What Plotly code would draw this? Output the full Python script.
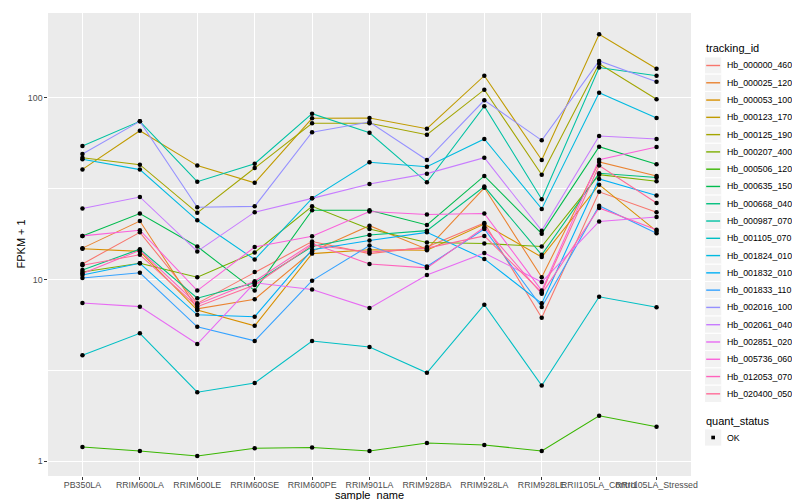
import math
import plotly.graph_objects as go

samples = ["PB350LA", "RRIM600LA", "RRIM600LE", "RRIM600SE", "RRIM600PE", "RRIM901LA",
           "RRIM928BA", "RRIM928LA", "RRIM928LE", "RRII105LA_Control", "RRII105LA_Stressed"]

tracking_ids = ["Hb_000000_460", "Hb_000025_120", "Hb_000053_100", "Hb_000123_170", "Hb_000125_190",
                "Hb_000207_400", "Hb_000506_120", "Hb_000635_150", "Hb_000668_040", "Hb_000987_070",
                "Hb_001105_070", "Hb_001824_010", "Hb_001832_010", "Hb_001833_110", "Hb_002016_100",
                "Hb_002061_040", "Hb_002851_020", "Hb_005736_060", "Hb_012053_070", "Hb_020400_050"]

# FPKM + 1 per sample
Hb_000000_460 = [12.2, 18.2, 7.4, 11.0, 16.2, 13.9, 15.1, 20.5, 6.16, 30.4, 23.5]
Hb_000025_120 = [14.9, 21.0, 6.9, 7.8, 14.3, 19.8, 14.7, 32.0, 10.3, 44.4, 37.2]
Hb_000053_100 = [14.8, 14.3, 6.8, 5.57, 13.9, 14.6, 14.5, 20.2, 13.3, 33.3, 18.5]
Hb_000123_170 = [40.4, 66.0, 42.4, 34.1, 77.2, 77.6, 67.7, 132.5, 45.5, 224.0, 144.8]
Hb_000125_190 = [46.8, 42.9, 23.3, 41.1, 72.5, 72.5, 62.7, 111.0, 37.8, 154.0, 98.3]
Hb_000207_400 = [11.0, 12.3, 10.3, 14.1, 25.3, 19.0, 16.0, 15.8, 15.2, 37.8, 34.8]
Hb_000506_120 = [1.20, 1.14, 1.07, 1.18, 1.19, 1.14, 1.26, 1.23, 1.14, 1.78, 1.55]
Hb_000635_150 = [17.4, 23.1, 15.2, 8.7, 24.1, 24.1, 20.0, 37.2, 17.9, 53.9, 43.2]
Hb_000668_040 = [11.3, 14.7, 7.9, 9.6, 15.2, 17.6, 18.6, 32.5, 13.7, 38.5, 36.5]
Hb_000987_070 = [54.4, 74.3, 34.6, 43.4, 81.9, 64.3, 34.3, 90.0, 27.7, 147.0, 132.5]
Hb_001105_070 = [3.83, 5.06, 2.40, 2.70, 4.59, 4.26, 3.07, 7.28, 2.61, 8.05, 7.04]
Hb_001824_010 = [46.0, 40.3, 21.2, 12.9, 28.0, 44.2, 41.8, 59.4, 24.5, 106.8, 77.6]
Hb_001832_010 = [10.6, 12.3, 6.4, 6.25, 14.6, 16.4, 18.2, 13.0, 7.4, 35.8, 29.0]
Hb_001833_110 = [10.2, 10.9, 5.5, 4.6, 9.87, 15.4, 11.8, 19.0, 7.06, 25.5, 18.0]
Hb_002016_100 = [49.1, 74.3, 25.0, 25.3, 64.7, 73.6, 45.5, 97.0, 58.4, 159.7, 122.8]
Hb_002061_040 = [24.6, 28.5, 14.3, 23.5, 28.0, 33.6, 38.3, 46.9, 18.6, 61.7, 59.4]
Hb_002851_020 = [7.43, 7.1, 4.42, 9.6, 8.82, 6.97, 10.6, 14.0, 9.7, 20.9, 22.1]
Hb_005736_060 = [17.4, 18.7, 8.7, 15.1, 17.3, 23.7, 22.8, 23.1, 8.7, 45.7, 53.7]
Hb_012053_070 = [10.8, 14.5, 7.3, 9.8, 15.8, 12.2, 11.6, 19.4, 8.35, 24.8, 18.8]
Hb_020400_050 = [12.0, 13.7, 7.1, 9.35, 15.5, 14.2, 14.9, 17.4, 8.5, 42.4, 26.4]

series_values = [Hb_000000_460, Hb_000025_120, Hb_000053_100, Hb_000123_170, Hb_000125_190,
                 Hb_000207_400, Hb_000506_120, Hb_000635_150, Hb_000668_040, Hb_000987_070,
                 Hb_001105_070, Hb_001824_010, Hb_001832_010, Hb_001833_110, Hb_002016_100,
                 Hb_002061_040, Hb_002851_020, Hb_005736_060, Hb_012053_070, Hb_020400_050]

quant_status = ["OK"]
y_ticks = [1, 10, 100]
y_tick_labels = ["1", "10", "100"]
x_title = "sample_name"
y_title = "FPKM + 1"


def hcl_to_hex(h, c=100.0, l=65.0):
    # polar LUV -> sRGB (as ggplot2's hue palette)
    hr = math.radians(h)
    u = c * math.cos(hr)
    v = c * math.sin(hr)
    xn, yn, zn = 95.047, 100.0, 108.883
    un = 4 * xn / (xn + 15 * yn + 3 * zn)
    vn = 9 * yn / (xn + 15 * yn + 3 * zn)
    Y = yn * ((l + 16) / 116) ** 3
    up = u / (13 * l) + un
    vp = v / (13 * l) + vn
    X = 9.0 * Y * up / (4 * vp)
    Z = -X / 3 - 5 * Y + 3 * Y / vp
    X, Y, Z = X / 100, Y / 100, Z / 100
    r = 3.240479 * X - 1.537150 * Y - 0.498535 * Z
    g = -0.969256 * X + 1.875992 * Y + 0.041556 * Z
    b = 0.055648 * X - 0.204043 * Y + 1.057311 * Z

    def gam(t):
        t = 12.92 * t if t <= 0.0031308 else 1.055 * t ** (1 / 2.4) - 0.055
        return max(0, min(255, int(round(t * 255))))

    return "#%02X%02X%02X" % (gam(r), gam(g), gam(b))


n = len(tracking_ids)
colors = [hcl_to_hex(15 + 360.0 * i / n) for i in range(n)]

fig = go.Figure()
for name, vals, col in zip(tracking_ids, series_values, colors):
    fig.add_trace(go.Scatter(x=samples, y=vals, mode="lines", name=name,
                             line=dict(color=col, width=1.07), showlegend=False,
                             hoverinfo="skip"))
for name, vals in zip(tracking_ids, series_values):
    fig.add_trace(go.Scatter(x=samples, y=vals, mode="markers", name=name,
                             marker=dict(color="black", size=4.5, symbol="circle"),
                             showlegend=False))

# panel geometry in pixels
W, H = 800, 500
L, R, T, B = 40, 683, 5, 468


def px(x):
    return (x - L) / (R - L)


def py(y):
    return (B - y) / (B - T)


shapes = []
annotations = []
# axis titles
annotations.append(dict(x=px(361.5), y=py(487), xref="paper", yref="paper", text=x_title,
                        showarrow=False, xanchor="center", yanchor="middle",
                        font=dict(size=11, color="black")))
annotations.append(dict(x=px(12), y=py((T + B) / 2), xref="paper", yref="paper", text=y_title,
                        showarrow=False, xanchor="center", yanchor="middle", textangle=-90,
                        font=dict(size=11, color="black")))
# legend: tracking_id
annotations.append(dict(x=px(696), y=py(40), xref="paper", yref="paper", text="tracking_id",
                        showarrow=False, xanchor="left", yanchor="middle",
                        font=dict(size=11, color="black")))
key_h = 17.28
first_c = 57.5
for i, (name, col) in enumerate(zip(tracking_ids, colors)):
    cy = first_c + i * key_h
    shapes.append(dict(type="rect", xref="paper", yref="paper",
                       x0=px(696.5), x1=px(713.8), y0=py(cy - key_h / 2), y1=py(cy + key_h / 2),
                       fillcolor="#F2F2F2", line=dict(color="white", width=1), layer="above"))
    shapes.append(dict(type="line", xref="paper", yref="paper",
                       x0=px(698.2), x1=px(712.1), y0=py(cy), y1=py(cy),
                       line=dict(color=col, width=1.4), layer="above"))
    annotations.append(dict(x=px(716.5), y=py(cy), xref="paper", yref="paper", text=name,
                            showarrow=False, xanchor="left", yanchor="middle",
                            font=dict(size=8.8, color="black")))
# legend: quant_status
annotations.append(dict(x=px(696), y=py(412.7), xref="paper", yref="paper", text="quant_status",
                        showarrow=False, xanchor="left", yanchor="middle",
                        font=dict(size=11, color="black")))
qc = 429.5
shapes.append(dict(type="rect", xref="paper", yref="paper",
                   x0=px(696.5), x1=px(713.8), y0=py(qc - key_h / 2), y1=py(qc + key_h / 2),
                   fillcolor="#F2F2F2", line=dict(color="white", width=1), layer="above"))
shapes.append(dict(type="rect", xref="paper", yref="paper",
                   x0=px(703.3), x1=px(707.0), y0=py(qc - 1.8), y1=py(qc + 1.8),
                   fillcolor="black", line=dict(width=0), layer="above"))
annotations.append(dict(x=px(716.5), y=py(qc), xref="paper", yref="paper", text=quant_status[0],
                        showarrow=False, xanchor="left", yanchor="middle",
                        font=dict(size=8.8, color="black")))

fig.update_layout(
    width=W, height=H,
    margin=dict(l=L, r=W - R, t=T, b=H - B, pad=0),
    paper_bgcolor="white", plot_bgcolor="#EBEBEB",
    font=dict(family="Liberation Sans, Arial, sans-serif", size=9, color="#4D4D4D"),
    showlegend=False,
    shapes=shapes, annotations=annotations,
    xaxis=dict(type="category", categoryorder="array", categoryarray=samples,
               range=[-0.6, len(samples) - 0.4], automargin=False,
               showgrid=True, gridcolor="white", gridwidth=1.07,
               ticks="outside", ticklen=2.7, tickcolor="#333333", tickwidth=1.07,
               ticklabelstandoff=-2,
               tickangle=0, tickfont=dict(size=8.8, color="#4D4D4D"),
               showline=False, zeroline=False),
    yaxis=dict(type="log", range=[-0.0809, 2.4673], automargin=False,
               tickvals=y_ticks, ticktext=y_tick_labels,
               showgrid=True, gridcolor="white", gridwidth=1.07,
               ticks="outside", ticklen=2.7, tickcolor="#333333", tickwidth=1.07,
               tickfont=dict(size=8.8, color="#4D4D4D"),
               showline=False, zeroline=False,
               minor=dict(tickvals=[10 ** 0.5, 10 ** 1.5], showgrid=True,
                          gridcolor="white", gridwidth=0.53, ticklen=0)),
)

fig.write_html("out.html")
